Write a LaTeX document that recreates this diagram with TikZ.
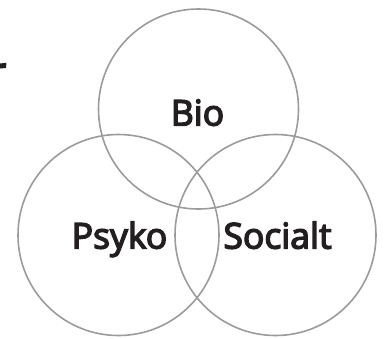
\documentclass[tikz,border=0pt]{standalone}
\usepackage{fontspec}
\newfontfamily\lblfont{Open Sans}[FakeBold=4]
\definecolor{ring}{RGB}{155,155,155}
\definecolor{ink}{RGB}{35,31,32}
\begin{document}
\begin{tikzpicture}[x=1pt,y=-1pt,
  ring/.style={draw=ring,line width=1.6pt},
  lbl/.style={text=ink,font=\lblfont\fontsize{35.5}{38}\selectfont,anchor=base,inner sep=0pt}]
\useasboundingbox (0,0) rectangle (385,338);
\draw[ring] (198.5,109) circle (100);
\draw[ring] (118.5,235) circle (100.5);
\draw[ring] (275.5,235) circle (100.5);
\node[lbl] (bio) at (197.5,125.5) {Bio};
\node[lbl] (psyko) at (119.5,248.5) {Psyko};
\node[lbl] (socialt) at (277.5,248.5) {Socialt};
\fill[ink] (0,63.5) -- (6.5,62.8) -- (6,68) -- (0,68.5) -- cycle;
\end{tikzpicture}
\end{document}
